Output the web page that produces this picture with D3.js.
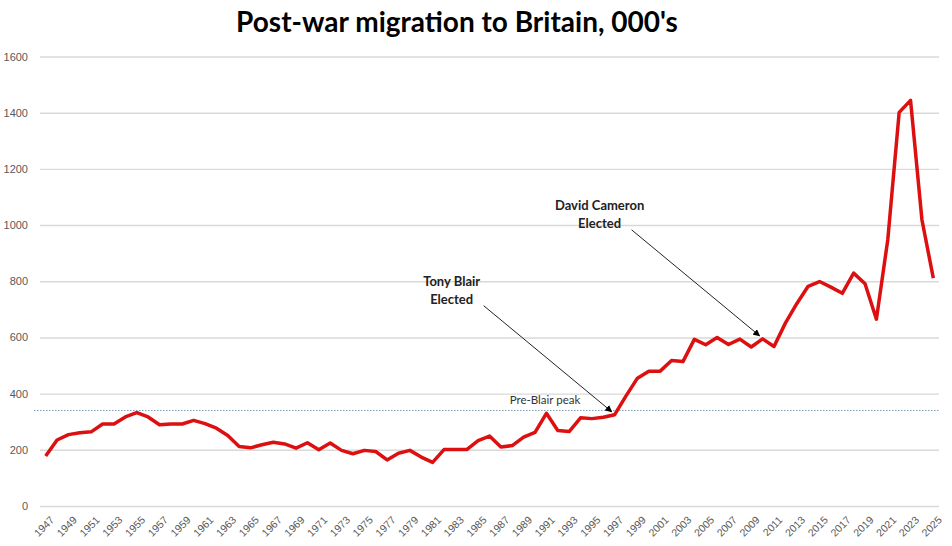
<!DOCTYPE html>
<html>
<head>
<meta charset="utf-8">
<script src="https://cdn.jsdelivr.net/npm/d3@7"></script>
<style>
  html, body { margin: 0; padding: 0; background: #fff; }
  svg { display: block; font-family: Lato, "Open Sans", sans-serif; }
</style>
</head>
<body>
<div id="chart"></div>
<script>
// Post-war migration to Britain, thousands per year
const years = d3.range(1947, 2026);
const migration = [
  178, 235, 254, 261, 264, 292, 292, 317, 332, 317,
  289, 292, 292, 305, 293, 277, 251, 212, 207, 218,
  227, 221, 206, 225, 200, 224, 198, 186, 198, 194,
  164, 188, 198, 174, 155, 201, 201, 201, 233, 249,
  210, 215, 245, 262, 330, 269, 265, 314, 311, 316,
  325, 392, 455, 480, 480, 518, 514, 593, 574, 600,
  575, 594, 566, 595, 568, 651, 720, 782, 799, 779,
  757, 829, 791, 665, 948, 1401, 1444, 1019, 811
];
const yTicks = [0, 200, 400, 600, 800, 1000, 1200, 1400, 1600];
const preBlairPeak = 340;
const annotations = [
  { lines: ["Tony Blair", "Elected"], year: 1997, value: 325 },
  { lines: ["David Cameron", "Elected"], year: 2010, value: 595 }
];

const width = 952;
const height = 546;
const plotLeft = 40, plotRight = 939, plotTop = 56.5, plotBottom = 506;

const svg = d3
  .select("#chart")
  .append("svg")
  .attr("width", width)
  .attr("height", height);

const x = d3.scalePoint().domain(years).range([plotLeft, plotRight]).padding(0.5);
const y = d3.scaleLinear().domain([0, 1600]).range([plotBottom, plotTop]);

// Title
svg
  .append("text")
  .attr("x", 457)
  .attr("y", 32)
  .attr("text-anchor", "middle")
  .style("font-size", "28px")
  .style("font-weight", "bold")
  .attr("fill", "#000")
  .text("Post-war migration to Britain, 000's");

// Gridlines and y labels
const yAxis = svg
  .append("g")
  .attr("transform", `translate(${plotLeft},0)`)
  .call(
    d3
      .axisLeft(y)
      .tickValues(yTicks)
      .tickFormat(d3.format("d"))
      .tickSize(-(plotRight - plotLeft))
      .tickPadding(12)
  );
yAxis.select(".domain").remove();
yAxis.selectAll("line").attr("stroke", "#d9d9d9").attr("stroke-width", 1.4);
yAxis
  .selectAll("text")
  .attr("fill", "#595959")
  .style("font-size", "11px");

// x labels, every other year
const xAxis = svg
  .append("g")
  .attr("transform", `translate(0,${plotBottom})`)
  .call(
    d3.axisBottom(x).tickValues(years.filter((d, i) => i % 2 === 0)).tickSize(0)
  );
xAxis.select(".domain").remove();
xAxis
  .selectAll("text")
  .attr("fill", "#595959")
  .style("font-size", "10.5px")
  .attr("text-anchor", "end")
  .attr("dy", "0.35em")
  .attr("transform", "translate(4,10) rotate(-45)");

// Pre-Blair peak reference line
svg
  .append("line")
  .attr("x1", plotLeft - 6)
  .attr("x2", plotRight)
  .attr("y1", y(preBlairPeak))
  .attr("y2", y(preBlairPeak))
  .attr("stroke", "#7f9fb0")
  .attr("stroke-width", 1)
  .attr("stroke-dasharray", "1.5,1.5");

svg
  .append("text")
  .attr("x", 545)
  .attr("y", y(preBlairPeak) - 6)
  .attr("text-anchor", "middle")
  .style("font-size", "11.5px")
  .attr("fill", "#333")
  .text("Pre-Blair peak");

// The migration line
const line = d3
  .line()
  .x((d, i) => x(years[i]))
  .y((d) => y(d));

svg
  .append("path")
  .datum(migration)
  .attr("d", line)
  .attr("fill", "none")
  .attr("stroke", "#dc1010")
  .attr("stroke-width", 3.5)
  .attr("stroke-linejoin", "round");

// Arrow annotations
svg
  .append("defs")
  .append("marker")
  .attr("id", "arrow")
  .attr("viewBox", "0 0 10 10")
  .attr("refX", 9)
  .attr("refY", 5)
  .attr("markerWidth", 7)
  .attr("markerHeight", 7)
  .attr("orient", "auto")
  .append("path")
  .attr("d", "M0,0 L10,5 L0,10 z")
  .attr("fill", "#000");

annotations.forEach((a) => {
  const tx = x(a.year) - 3;
  const ty = y(a.value) - 3;
  const label = svg
    .append("text")
    .attr("text-anchor", "middle")
    .style("font-size", "13px")
    .style("font-weight", "bold")
    .attr("fill", "#222");
  a.lines.forEach((t, i) => {
    label
      .append("tspan")
      .attr("x", tx - 160)
      .attr("y", ty - 126 + i * 18)
      .text(t);
  });
  svg
    .append("line")
    .attr("x1", tx - 128)
    .attr("y1", ty - 106)
    .attr("x2", tx)
    .attr("y2", ty)
    .attr("stroke", "#222")
    .attr("stroke-width", 1)
    .attr("marker-end", "url(#arrow)");
});
</script>
</body>
</html>
